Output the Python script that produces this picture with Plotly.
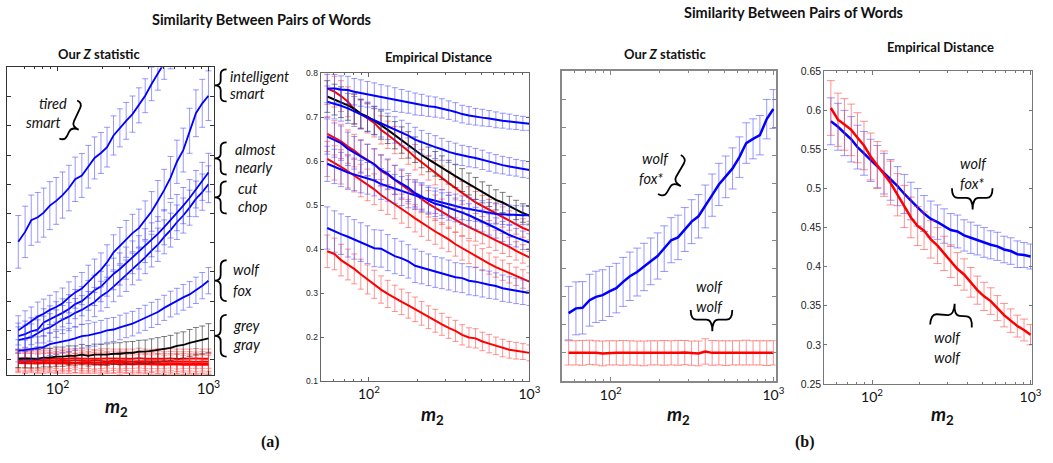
import math
import plotly.graph_objects as go

W, H = 1053, 463

# ---------------- data ----------------
m2 = [55, 61, 67, 74, 81, 89, 98, 108, 119, 131, 145, 160, 176, 194, 213, 235,
      259, 285, 314, 346, 381, 420, 462, 509, 561, 618, 681, 750, 826, 910, 1000]

# (a) Our Z statistic
za_tired_smart = [4.03, 4.37, 4.77, 4.87, 5.03, 5.27, 5.43, 5.63, 5.87, 6.17, 6.30, 6.60, 6.90, 7.07, 7.27, 7.67,
                  7.93, 8.17, 8.40, 8.70, 9.03, 9.43, 9.77, 10.13, 10.47, 10.8, 11.2, 11.6, 12.0, 12.4, 12.8]
za_tired_smart_err = [0.9, 0.88, 0.86, 0.85, 0.84, 0.82, 0.8, 0.79, 0.78, 0.76, 0.75, 0.73, 0.72, 0.7, 0.68, 0.67,
                      0.65, 0.63, 0.62, 0.6, 0.58, 0.57, 0.55, 0.54, 0.52, 0.5, 0.5, 0.5, 0.5, 0.5, 0.5]
za_intelligent_smart = [1.0, 1.17, 1.3, 1.47, 1.57, 1.7, 1.8, 1.93, 2.13, 2.3, 2.43, 2.67, 2.87, 3.07, 3.33, 3.67,
                        3.9, 4.13, 4.33, 4.5, 4.77, 5.07, 5.43, 5.8, 6.23, 6.77, 7.17, 7.83, 8.43, 8.77, 9.03]
za_intelligent_smart_err = [0.5, 0.5, 0.5, 0.5, 0.5, 0.5, 0.52, 0.52, 0.53, 0.54, 0.55, 0.56, 0.57, 0.58, 0.6, 0.6,
                            0.62, 0.63, 0.64, 0.65, 0.66, 0.68, 0.7, 0.71, 0.72, 0.74, 0.75, 0.77, 0.8, 0.82, 0.85]
za_almost_nearly = [0.8, 0.87, 0.97, 1.03, 1.27, 1.37, 1.5, 1.6, 1.73, 1.9, 2.0, 2.2, 2.37, 2.5, 2.7, 2.93,
                    3.1, 3.3, 3.5, 3.67, 3.9, 4.1, 4.3, 4.53, 4.77, 5.03, 5.27, 5.53, 5.83, 6.1, 6.4]
za_almost_nearly_err = [0.45, 0.45, 0.46, 0.46, 0.47, 0.47, 0.48, 0.48, 0.49, 0.5, 0.5, 0.51, 0.52, 0.52, 0.53, 0.54,
                        0.55, 0.55, 0.56, 0.57, 0.58, 0.58, 0.59, 0.6, 0.61, 0.62, 0.62, 0.63, 0.64, 0.65, 0.66]
za_cut_chop = [0.67, 0.73, 0.77, 0.9, 1.03, 1.1, 1.23, 1.37, 1.47, 1.6, 1.7, 1.83, 1.97, 2.17, 2.3, 2.5,
               2.7, 2.87, 3.1, 3.27, 3.5, 3.73, 3.93, 4.2, 4.43, 4.7, 4.93, 5.2, 5.5, 5.73, 6.0]
za_cut_chop_err = [0.45, 0.45, 0.45, 0.46, 0.46, 0.47, 0.47, 0.48, 0.48, 0.49, 0.49, 0.5, 0.5, 0.51, 0.52, 0.52,
                   0.53, 0.54, 0.54, 0.55, 0.56, 0.56, 0.57, 0.58, 0.58, 0.59, 0.6, 0.6, 0.61, 0.62, 0.63]
za_wolf_fox = [0.3, 0.33, 0.37, 0.4, 0.43, 0.53, 0.57, 0.63, 0.67, 0.73, 0.8, 0.83, 0.87, 0.93, 1.0, 1.03,
               1.1, 1.17, 1.23, 1.33, 1.43, 1.53, 1.63, 1.77, 1.9, 2.0, 2.13, 2.23, 2.37, 2.53, 2.7]
za_wolf_fox_err = [0.38, 0.38, 0.38, 0.38, 0.39, 0.39, 0.39, 0.39, 0.4, 0.4, 0.4, 0.4, 0.41, 0.41, 0.41, 0.41,
                   0.42, 0.42, 0.42, 0.42, 0.43, 0.43, 0.43, 0.43, 0.44, 0.44, 0.44, 0.44, 0.45, 0.45, 0.45]
za_grey_gray = [0.03, 0.02, 0.03, 0.03, 0.07, 0.07, 0.1, 0.1, 0.13, 0.13, 0.17, 0.13, 0.17, 0.17, 0.17, 0.2,
                0.2, 0.23, 0.23, 0.27, 0.27, 0.3, 0.33, 0.37, 0.4, 0.47, 0.5, 0.57, 0.63, 0.67, 0.73]
za_grey_gray_err = [0.3, 0.3, 0.31, 0.31, 0.32, 0.32, 0.33, 0.33, 0.34, 0.34, 0.35, 0.35, 0.36, 0.36, 0.37, 0.37,
                    0.38, 0.38, 0.39, 0.39, 0.4, 0.41, 0.42, 0.42, 0.43, 0.44, 0.45, 0.46, 0.47, 0.48, 0.5]
za_red_1 = [0.03, 0.05, 0.03, 0.01, 0.03, 0.04, 0.03, 0.02, 0.03, 0.05, 0.03, 0.03, 0.01, 0.03, 0.04, 0.03,
            0.02, 0.03, 0.03, 0.05, 0.03, 0.02, 0.03, 0.03, 0.04, 0.02, 0.03, 0.03, 0.04, 0.03, 0.03]
za_red_2 = [-0.03, -0.05, -0.03, -0.04, -0.02, -0.03, -0.05, -0.03, -0.04, -0.02, -0.04, -0.05, -0.03, -0.04, -0.06, -0.04,
            -0.05, -0.04, -0.06, -0.05, -0.05, -0.07, -0.05, -0.06, -0.05, -0.07, -0.06, -0.06, -0.08, -0.06, -0.07]
za_red_3 = [-0.08, -0.09, -0.07, -0.1, -0.08, -0.09, -0.1, -0.08, -0.09, -0.11, -0.09, -0.1, -0.09, -0.11, -0.1, -0.12,
            -0.1, -0.11, -0.12, -0.1, -0.12, -0.11, -0.13, -0.12, -0.12, -0.14, -0.12, -0.13, -0.14, -0.13, -0.13]
za_red_4 = [-0.12, -0.13, -0.12, -0.14, -0.13, -0.12, -0.14, -0.13, -0.15, -0.13, -0.14, -0.15, -0.14, -0.16, -0.15, -0.14,
            -0.16, -0.15, -0.17, -0.15, -0.16, -0.17, -0.16, -0.18, -0.17, -0.16, -0.18, -0.17, -0.18, -0.17, -0.18]
za_red_err = [0.33, 0.34, 0.33, 0.33, 0.34, 0.33, 0.33, 0.34, 0.33, 0.33, 0.34, 0.33, 0.33, 0.34, 0.33, 0.33,
              0.34, 0.33, 0.33, 0.34, 0.33, 0.33, 0.34, 0.33, 0.33, 0.34, 0.33, 0.33, 0.34, 0.33, 0.33]

# (a) Empirical distance
ea_blue_1 = [0.765, 0.765, 0.763, 0.762, 0.758, 0.755, 0.752, 0.749, 0.746, 0.744, 0.74, 0.737, 0.734, 0.73, 0.728, 0.725,
             0.723, 0.72, 0.716, 0.712, 0.707, 0.704, 0.701, 0.699, 0.697, 0.694, 0.692, 0.69, 0.688, 0.686, 0.685]
ea_blue_1_err = [0.032, 0.032, 0.031, 0.031, 0.03, 0.03, 0.029, 0.029, 0.028, 0.027, 0.027, 0.026, 0.025, 0.025, 0.024, 0.023,
                 0.023, 0.022, 0.021, 0.021, 0.02, 0.02, 0.019, 0.019, 0.018, 0.018, 0.017, 0.017, 0.016, 0.016, 0.015]
ea_blue_2 = [0.735, 0.731, 0.726, 0.72, 0.713, 0.706, 0.699, 0.693, 0.686, 0.679, 0.671, 0.664, 0.658, 0.649, 0.643, 0.637,
             0.632, 0.627, 0.621, 0.617, 0.613, 0.61, 0.607, 0.603, 0.598, 0.594, 0.591, 0.588, 0.585, 0.582, 0.58]
ea_blue_2_err = [0.036, 0.035, 0.035, 0.034, 0.034, 0.033, 0.032, 0.032, 0.031, 0.03, 0.03, 0.029, 0.028, 0.028, 0.027, 0.026,
                 0.026, 0.025, 0.024, 0.024, 0.023, 0.023, 0.022, 0.022, 0.021, 0.021, 0.02, 0.02, 0.019, 0.019, 0.019]
ea_blue_3 = [0.656, 0.648, 0.641, 0.628, 0.619, 0.61, 0.602, 0.593, 0.58, 0.571, 0.558, 0.549, 0.54, 0.527, 0.52, 0.51,
             0.503, 0.499, 0.494, 0.489, 0.483, 0.477, 0.47, 0.464, 0.456, 0.448, 0.44, 0.432, 0.426, 0.42, 0.415]
ea_blue_4 = [0.594, 0.588, 0.581, 0.574, 0.57, 0.565, 0.561, 0.556, 0.548, 0.543, 0.537, 0.532, 0.526, 0.521, 0.517, 0.514,
             0.51, 0.506, 0.501, 0.498, 0.494, 0.491, 0.488, 0.485, 0.482, 0.48, 0.479, 0.478, 0.478, 0.477, 0.477]
ea_mid_err = [0.04, 0.039, 0.039, 0.038, 0.037, 0.037, 0.036, 0.035, 0.035, 0.034, 0.033, 0.033, 0.032, 0.031, 0.031, 0.03,
              0.029, 0.029, 0.028, 0.027, 0.027, 0.026, 0.025, 0.025, 0.024, 0.023, 0.023, 0.022, 0.021, 0.021, 0.02]
ea_blue_5 = [0.448, 0.44, 0.434, 0.428, 0.422, 0.416, 0.41, 0.402, 0.401, 0.392, 0.384, 0.379, 0.372, 0.362, 0.358, 0.353,
             0.348, 0.345, 0.341, 0.336, 0.334, 0.328, 0.326, 0.322, 0.319, 0.316, 0.311, 0.308, 0.305, 0.302, 0.3]
ea_blue_5_err = [0.048, 0.047, 0.046, 0.046, 0.045, 0.044, 0.043, 0.042, 0.042, 0.041, 0.04, 0.039, 0.038, 0.038, 0.037, 0.036,
                 0.035, 0.035, 0.034, 0.033, 0.033, 0.032, 0.032, 0.031, 0.031, 0.03, 0.03, 0.029, 0.029, 0.028, 0.028]
ea_black = [0.747, 0.74, 0.734, 0.727, 0.719, 0.708, 0.701, 0.692, 0.682, 0.671, 0.659, 0.648, 0.637, 0.626, 0.614, 0.604,
            0.594, 0.585, 0.575, 0.566, 0.557, 0.548, 0.538, 0.529, 0.521, 0.512, 0.506, 0.498, 0.489, 0.482, 0.476]
ea_black_err = [0.036, 0.035, 0.035, 0.034, 0.034, 0.033, 0.033, 0.032, 0.032, 0.031, 0.031, 0.03, 0.03, 0.029, 0.029, 0.028,
                0.028, 0.027, 0.027, 0.026, 0.026, 0.025, 0.025, 0.024, 0.024, 0.023, 0.023, 0.022, 0.022, 0.021, 0.021]
ea_red_1 = [0.765, 0.758, 0.748, 0.735, 0.718, 0.707, 0.697, 0.687, 0.671, 0.66, 0.648, 0.636, 0.623, 0.609, 0.598, 0.585,
            0.574, 0.562, 0.55, 0.538, 0.528, 0.517, 0.506, 0.498, 0.489, 0.482, 0.473, 0.465, 0.456, 0.448, 0.442]
ea_red_2 = [0.662, 0.653, 0.645, 0.633, 0.624, 0.612, 0.603, 0.593, 0.578, 0.569, 0.557, 0.546, 0.535, 0.524, 0.514, 0.503,
            0.494, 0.485, 0.475, 0.466, 0.458, 0.45, 0.443, 0.437, 0.428, 0.42, 0.413, 0.405, 0.396, 0.389, 0.381]
ea_red_3 = [0.605, 0.596, 0.587, 0.577, 0.567, 0.556, 0.546, 0.536, 0.523, 0.513, 0.502, 0.492, 0.481, 0.47, 0.46, 0.45,
            0.44, 0.431, 0.422, 0.411, 0.402, 0.393, 0.384, 0.376, 0.367, 0.359, 0.352, 0.345, 0.338, 0.332, 0.326]
ea_red_4 = [0.395, 0.389, 0.375, 0.365, 0.355, 0.343, 0.331, 0.32, 0.308, 0.298, 0.288, 0.28, 0.272, 0.263, 0.254, 0.245,
            0.237, 0.229, 0.221, 0.214, 0.205, 0.199, 0.197, 0.19, 0.185, 0.18, 0.175, 0.171, 0.169, 0.167, 0.164]
ea_red_4_err = [0.037, 0.036, 0.036, 0.035, 0.034, 0.034, 0.033, 0.032, 0.031, 0.031, 0.03, 0.029, 0.029, 0.028, 0.027, 0.026,
                0.026, 0.025, 0.024, 0.024, 0.023, 0.022, 0.022, 0.021, 0.021, 0.02, 0.02, 0.019, 0.019, 0.018, 0.018]

# (b) Our Z statistic
zb_wolf_fox = [2.41, 2.58, 2.6, 2.87, 2.99, 3.05, 3.18, 3.3, 3.52, 3.72, 3.87, 4.05, 4.25, 4.44, 4.7, 5.0,
               5.1, 5.38, 5.66, 5.85, 6.2, 6.6, 6.98, 7.25, 7.55, 7.95, 8.45, 8.6, 8.73, 9.3, 9.66]
zb_wolf_fox_err = [0.95, 0.94, 0.93, 0.92, 0.91, 0.9, 0.89, 0.88, 0.87, 0.86, 0.85, 0.84, 0.83, 0.82, 0.81, 0.8,
                   0.79, 0.78, 0.78, 0.77, 0.76, 0.75, 0.75, 0.74, 0.73, 0.72, 0.72, 0.71, 0.7, 0.7, 0.69]
zb_wolf_wolf = [1.0, 1.0, 1.0, 1.02, 1.0, 0.98, 1.0, 1.0, 1.0, 1.0, 0.99, 0.98, 1.0, 1.0, 1.0, 1.0,
                1.0, 1.01, 0.99, 0.98, 1.05, 1.0, 1.0, 0.99, 1.0, 1.0, 1.01, 1.0, 1.0, 0.99, 1.0]
zb_wolf_wolf_err = [0.43, 0.43, 0.44, 0.43, 0.43, 0.44, 0.43, 0.43, 0.44, 0.43, 0.43, 0.44, 0.43, 0.43, 0.44, 0.43,
                    0.44, 0.43, 0.43, 0.44, 0.45, 0.44, 0.43, 0.44, 0.43, 0.43, 0.44, 0.43, 0.43, 0.44, 0.43]

# (b) Empirical distance
eb_wolf_fox = [0.586, 0.579, 0.571, 0.563, 0.553, 0.545, 0.536, 0.528, 0.519, 0.511, 0.503, 0.493, 0.484, 0.476, 0.468, 0.461,
               0.457, 0.452, 0.447, 0.445, 0.44, 0.437, 0.434, 0.431, 0.428, 0.426, 0.422, 0.42, 0.416, 0.415, 0.413]
eb_wolf_fox_err = [0.03, 0.03, 0.029, 0.029, 0.028, 0.028, 0.027, 0.027, 0.026, 0.026, 0.025, 0.025, 0.024, 0.024, 0.023, 0.023,
                   0.022, 0.022, 0.021, 0.021, 0.02, 0.02, 0.019, 0.019, 0.018, 0.018, 0.017, 0.017, 0.017, 0.016, 0.016]
eb_wolf_wolf = [0.603, 0.588, 0.582, 0.575, 0.565, 0.555, 0.541, 0.53, 0.519, 0.507, 0.492, 0.477, 0.463, 0.452, 0.446, 0.435,
                0.427, 0.417, 0.407, 0.397, 0.39, 0.38, 0.37, 0.362, 0.356, 0.347, 0.338, 0.331, 0.324, 0.319, 0.313]
eb_wolf_wolf_err = [0.035, 0.034, 0.033, 0.033, 0.032, 0.031, 0.03, 0.03, 0.029, 0.028, 0.027, 0.027, 0.026, 0.025, 0.024, 0.024,
                    0.023, 0.022, 0.021, 0.021, 0.02, 0.019, 0.018, 0.018, 0.017, 0.016, 0.015, 0.015, 0.014, 0.014, 0.013]

x_ticks = [100, 1000]
x_tick_text = ["10<sup>2</sup>", "10<sup>3</sup>"]
x_minor = [60, 70, 80, 90, 200, 300, 400, 500, 600, 700, 800, 900]
b_emp_ticks = [0.25, 0.3, 0.35, 0.4, 0.45, 0.5, 0.55, 0.6, 0.65]
b_emp_tick_text = ["0.25", "0.3", "0.35", "0.4", "0.45", "0.5", "0.55", "0.6", "0.65"]

# ---------------- styles ----------------
BLUE, BLUE_E = "#0000ff", "rgba(70,70,255,0.55)"
RED, RED_E = "#ff0000", "rgba(255,60,60,0.55)"
BLACK, BLACK_E = "#000000", "rgba(40,40,40,0.6)"

fig = go.Figure()


def add(y, err, color, ecolor, xa, ya, lw=2.0, cap=3):
    fig.add_trace(go.Scatter(
        x=m2, y=y, mode="lines", line=dict(color=color, width=lw),
        error_y=dict(type="data", array=err, visible=True, color=ecolor, thickness=1, width=cap),
        xaxis=xa, yaxis=ya, showlegend=False, hoverinfo="skip"))


# panel (a) Z
for r in (za_red_1, za_red_2, za_red_3, za_red_4):
    add(r, za_red_err, RED, RED_E, "x", "y", 1.8)
add(za_grey_gray, za_grey_gray_err, BLACK, BLACK_E, "x", "y", 1.8)
add(za_wolf_fox, za_wolf_fox_err, BLUE, BLUE_E, "x", "y", 1.8)
add(za_cut_chop, za_cut_chop_err, BLUE, BLUE_E, "x", "y", 1.8)
add(za_almost_nearly, za_almost_nearly_err, BLUE, BLUE_E, "x", "y", 1.8)
add(za_intelligent_smart, za_intelligent_smart_err, BLUE, BLUE_E, "x", "y", 1.8)
add(za_tired_smart, za_tired_smart_err, BLUE, BLUE_E, "x", "y", 1.8)

# panel (a) empirical distance
add(ea_red_4, ea_red_4_err, RED, RED_E, "x2", "y2")
add(ea_red_3, ea_mid_err, RED, RED_E, "x2", "y2")
add(ea_red_2, ea_mid_err, RED, RED_E, "x2", "y2")
add(ea_red_1, ea_black_err, RED, RED_E, "x2", "y2")
add(ea_black, ea_black_err, BLACK, BLACK_E, "x2", "y2")
add(ea_blue_5, ea_blue_5_err, BLUE, BLUE_E, "x2", "y2")
add(ea_blue_4, ea_mid_err, BLUE, BLUE_E, "x2", "y2")
add(ea_blue_3, ea_mid_err, BLUE, BLUE_E, "x2", "y2")
add(ea_blue_2, ea_blue_2_err, BLUE, BLUE_E, "x2", "y2")
add(ea_blue_1, ea_blue_1_err, BLUE, BLUE_E, "x2", "y2")

# panel (b) Z
add(zb_wolf_wolf, zb_wolf_wolf_err, RED, RED_E, "x3", "y3", 2.5, 4)
add(zb_wolf_fox, zb_wolf_fox_err, BLUE, BLUE_E, "x3", "y3", 2.5, 4)

# panel (b) empirical distance
add(eb_wolf_fox, eb_wolf_fox_err, BLUE, BLUE_E, "x4", "y4", 2.5, 4)
add(eb_wolf_wolf, eb_wolf_wolf_err, RED, RED_E, "x4", "y4", 2.5, 4)


def px_x(v):
    return v / W


def px_y(v):
    return 1 - v / H


def xax(dom, rng, anchor, lc, lw, fs):
    return dict(domain=[px_x(dom[0]), px_x(dom[1])], type="log", range=rng, anchor=anchor,
                tickmode="array", tickvals=x_ticks, ticktext=x_tick_text,
                ticks="inside", ticklen=4, tickcolor=lc, showline=True, linecolor=lc, linewidth=lw,
                mirror="ticks", showgrid=False, zeroline=False,
                tickfont=dict(family="Lato", size=fs, color="#111"),
                minor=dict(tickmode="array", tickvals=x_minor, ticks="inside", ticklen=2,
                           tickcolor=lc, showgrid=False))


def yax(dom, rng, anchor, lc, lw, **kw):
    d = dict(domain=[px_y(dom[1]), px_y(dom[0])], range=rng, anchor=anchor,
             ticks="inside", ticklen=4, tickcolor=lc, showline=True, linecolor=lc, linewidth=lw,
             mirror="ticks", showgrid=False, zeroline=False)
    d.update(kw)
    return d


fig.update_layout(
    width=W, height=H, margin=dict(l=0, r=0, t=0, b=0),
    paper_bgcolor="white", plot_bgcolor="white", showlegend=False,
    xaxis=xax((7, 216), [1.665, 3.035], "y", "#333", 1, 15),
    yaxis=yax((63, 379), [-0.533, 10], "x", "#333", 1, tick0=0, dtick=1, showticklabels=False),
    xaxis2=xax((324, 535), [1.699, 3.0], "y2", "#666", 1, 14),
    yaxis2=yax((69, 385), [0.1, 0.8], "x2", "#666", 1, tick0=0.1, dtick=0.1, tickformat=".1f",
               ticklen=3, tickfont=dict(family="Liberation Sans", size=8.5, color="#222")),
    xaxis3=xax((568, 784), [1.70, 3.015], "y3", "#888", 1.5, 14),
    yaxis3=yax((67, 385), [0, 11], "x3", "#888", 1.5, tick0=0, dtick=1, showticklabels=False),
    xaxis4=xax((833, 1043), [1.699, 3.01], "y4", "#777", 1, 14),
    yaxis4=yax((67, 388), [0.25, 0.65], "x4", "#777", 1, tickmode="array", tickvals=b_emp_ticks,
               ticktext=b_emp_tick_text, ticklen=3,
               tickfont=dict(family="Liberation Sans", size=10.5, color="#222")),
)

ann = []
shapes = []


def text(s, x, y, size=14, xanchor="center", family="Lato", color="#111"):
    ann.append(dict(text=s, x=px_x(x), y=px_y(y), xref="paper", yref="paper", showarrow=False,
                    xanchor=xanchor, yanchor="middle",
                    font=dict(family=family, size=size, color=color)))


def brace(ax, ay, bx, by, w1, w2, side=1, f=0.5, lw=1.8):
    """Curly brace drawn from end A to end B (pixel coords); tip pushed out by w1+w2."""
    L = math.hypot(bx - ax, by - ay)
    ux, uy = (bx - ax) / L, (by - ay) / L
    nx, ny = -uy * side, ux * side
    r = min(6.0, L * 0.15)
    sm = f * L

    def P(s, t):
        x = ax + s * ux + t * nx
        y = ay + s * uy + t * ny
        return "%.5f,%.5f" % (px_x(x), px_y(y))

    path = ("M %s Q %s %s L %s Q %s %s Q %s %s L %s Q %s %s" % (
        P(0, 0), P(0, w1), P(r, w1), P(sm - r, w1), P(sm, w1), P(sm, w1 + w2),
        P(sm, w1), P(sm + r, w1), P(L - r, w1), P(L, w1), P(L, 0)))
    shapes.append(dict(type="path", path=path, xref="paper", yref="paper",
                       line=dict(color="black", width=lw)))


# titles
text("<b>Similarity Between Pairs of Words</b>", 264, 14, 14.5)
text("<b>Similarity Between Pairs of Words</b>", 802, 7, 14.5)
text("<b>Our <i>Z</i> statistic</b>", 100, 49, 13)
text("<b>Empirical Distance</b>", 443, 52, 13)
text("<b>Our <i>Z</i> statistic</b>", 672, 49, 13)
text("<b>Empirical Distance</b>", 950, 42, 13)

# axis labels
for xm, ym in ((118, 412), (437, 420), (686, 420), (952, 420)):
    text("<b><i>m</i><sub>2</sub></b>", xm, ym, 19)
text("<b>(a)</b>", 273, 448, 16, family="Liberation Serif")
text("<b>(b)</b>", 814, 448, 16, family="Liberation Serif")

# word-pair labels, panel (a) Z
text("<i>tired</i>", 70, 100, 14.5, "right")
text("<i>smart</i>", 64, 120, 14.5, "right")
brace(78, 97, 60, 136, 6, 8, side=-1, f=0.62)
for (w1, w2, y1, y2, bt, bb) in (("intelligent", "smart", 72, 90, 65, 98),
                                 ("almost", "nearly", 147, 166, 140, 173),
                                 ("cut", "chop", 187, 206, 180, 213),
                                 ("wolf", "fox", 270, 292, 261, 303),
                                 ("grey", "gray", 328, 347, 317, 360)):
    xl = {"intelligent": 230, "almost": 235, "cut": 238}.get(w1, 233)
    text("<i>%s</i>" % w1, xl, y1, 14.5, "left")
    text("<i>%s</i>" % w2, xl, y2, 14.5, "left")
    brace(229, bt, 229, bb, 6, 6, side=1, f=0.5)

# panel (b) Z
text("<i>wolf</i>", 678, 157, 14.5, "right")
text("<i>fox*</i>", 672, 177, 14.5, "right")
brace(688, 153, 665, 193, 7, 9, side=-1, f=0.6)
text("<i>wolf</i>", 717, 288, 14.5)
text("<i>wolf</i>", 717, 308, 14.5)
brace(698, 312, 740, 312, 10, 12, side=1, f=0.52)

# panel (b) empirical distance
text("<i>wolf</i>", 984, 162, 14.5)
text("<i>fox*</i>", 982, 182, 14.5)
brace(962, 187, 1003, 187, 10, 12, side=1, f=0.51)
brace(940, 327, 982, 330, 11, 12, side=-1, f=0.55)
text("<i>wolf</i>", 957, 340, 14.5)
text("<i>wolf</i>", 957, 361, 14.5)

fig.update_layout(annotations=ann, shapes=shapes)
fig.write_html("out.html", config={"displayModeBar": False},
               post_script="document.body.style.margin='0px';")
